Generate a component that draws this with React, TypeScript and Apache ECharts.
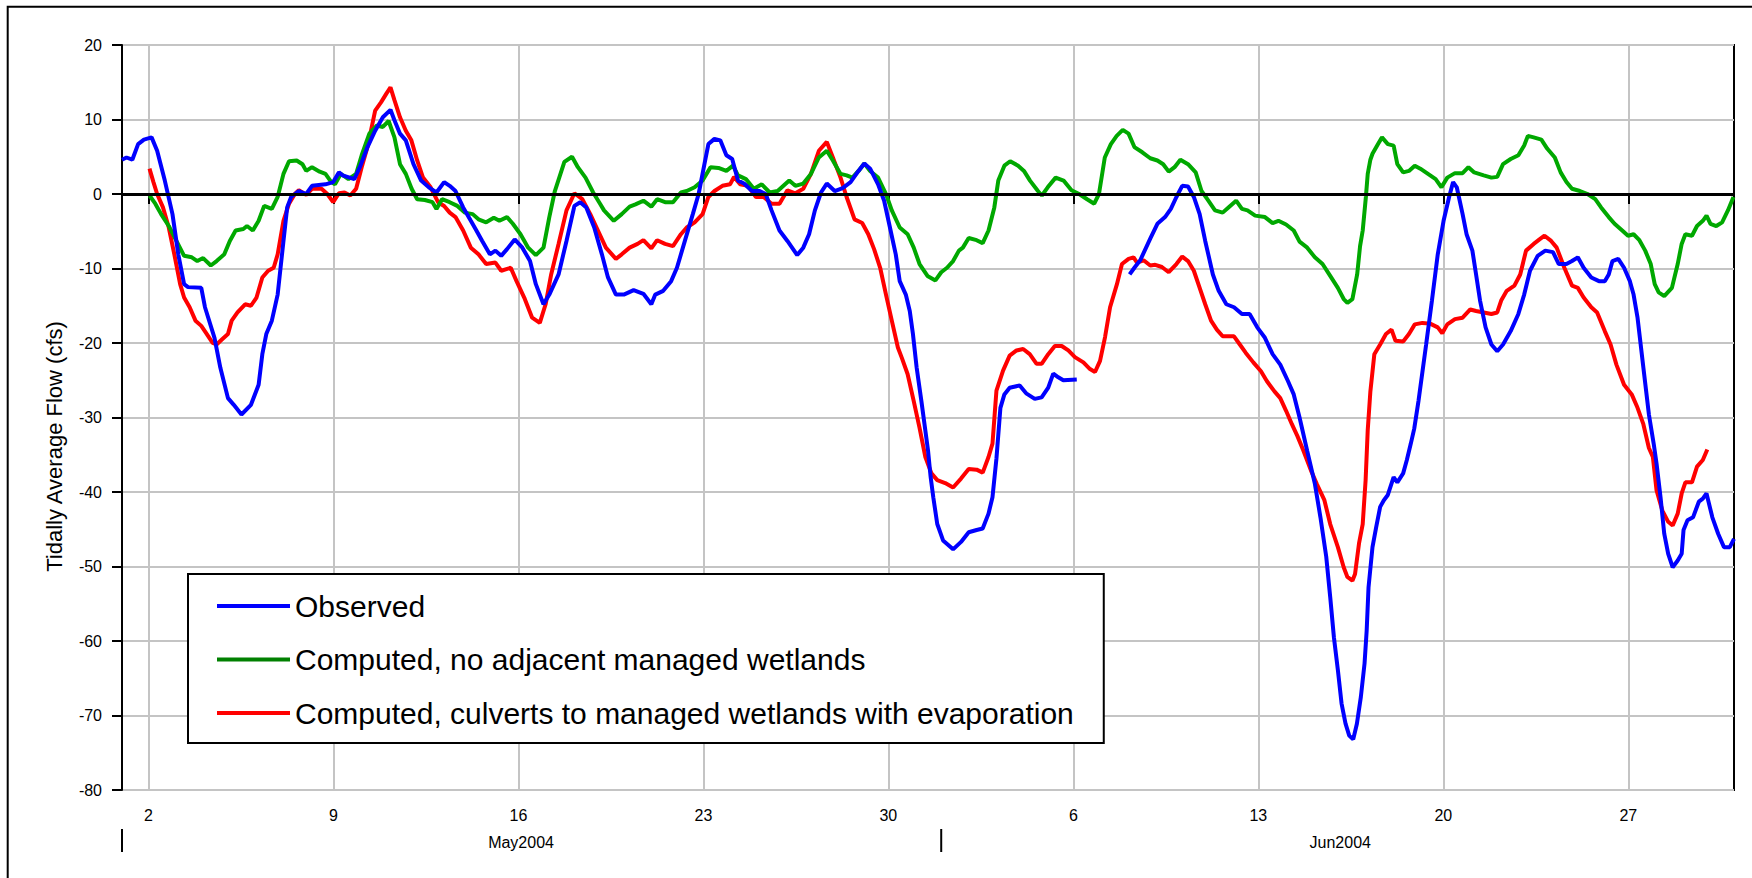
import React, { useEffect, useRef } from "react";
import * as echarts from "echarts";

const FONT = "'Liberation Sans', Arial, Helvetica, sans-serif";

// Day numbers: May d 00:00 -> d, June d 00:00 -> 31 + d.  Values in cfs.
const xStartDay = 1; // May 1 2004
const xEndDay = 62; // Jul 1 2004
const xTickDays = [2, 9, 16, 23, 30, 37, 44, 51, 58];
const yTicks = { min: -80, max: 20, step: 10 };
const monthLabels = [
  { day: 16.1, text: "May2004" },
  { day: 47.1, text: "Jun2004" },
];
const monthStarts = [1, 32];

const seriesNames = [
  "Observed",
  "Computed, no adjacent managed wetlands",
  "Computed, culverts to managed wetlands with evaporation",
];

const observedFlow: (number | null)[][] = [
  [1.0, 4.6], [1.17, 4.9], [1.39, 4.6], [1.61, 6.7], [1.83, 7.3], [2.12, 7.6], [2.33, 5.8], [2.62, 1.8],
  [2.91, -2.7], [3.13, -8.1], [3.35, -12.1], [3.5, -12.5], [4.0, -12.6], [4.14, -15.2], [4.5, -19.3],
  [4.72, -23.3], [5.01, -27.4], [5.23, -28.3], [5.52, -29.6], [5.88, -28.3], [6.17, -25.6], [6.31, -21.5],
  [6.46, -18.8], [6.67, -17.0], [6.89, -13.5], [7.11, -6.3], [7.25, -1.8], [7.4, -0.4], [7.69, 0.4],
  [7.97, 0], [8.19, 1.1], [8.7, 1.3], [8.99, 1.6], [9.21, 2.9], [9.35, 2.5], [9.79, 2.0], [10.0, 3.6],
  [10.29, 6.3], [10.58, 8.5], [10.87, 10.3], [11.16, 11.3], [11.31, 9.9], [11.52, 8.1], [11.74, 7.2],
  [12.03, 4.0], [12.32, 1.8], [12.61, 0.9], [12.9, 0.2], [13.19, 1.6], [13.4, 1.1], [13.62, 0.4],
  [13.91, -1.8], [14.2, -3.6], [14.41, -4.9], [14.63, -6.3], [14.92, -8.1], [15.13, -7.6], [15.35, -8.3],
  [15.57, -7.4], [15.86, -6.1], [16.15, -7.2], [16.44, -9.0], [16.66, -12.1], [16.95, -14.8], [17.17, -13.5],
  [17.52, -10.8], [17.82, -6.3], [18.12, -1.6], [18.34, -1.1], [18.57, -1.8], [18.87, -4.5], [19.16, -8.1],
  [19.39, -11.2], [19.69, -13.5], [19.99, -13.5], [20.36, -12.9], [20.73, -13.4], [21.03, -14.8],
  [21.18, -13.5], [21.48, -13.0], [21.78, -11.7], [22.0, -9.9], [22.3, -6.3], [22.6, -2.7], [22.82, 0],
  [23.04, 4.0], [23.19, 6.7], [23.42, 7.4], [23.64, 7.2], [23.87, 5.2], [24.09, 4.7], [24.31, 1.8],
  [24.54, 1.4], [24.84, 0.4], [25.13, 0.4], [25.36, 0], [25.58, -2.2], [25.88, -4.9], [26.18, -6.3],
  [26.55, -8.2], [26.78, -7.2], [27.0, -5.4], [27.22, -2.2], [27.45, 0.2], [27.67, 1.4], [27.97, 0.4],
  [28.27, 0.8], [28.57, 1.6], [28.87, 3.1], [29.09, 4.1], [29.31, 3.4], [29.61, 1.3], [29.84, -0.9],
  [30.06, -4.5], [30.28, -8.1], [30.43, -11.7], [30.66, -13.5], [30.81, -15.7], [30.93, -18.8],
  [31.07, -23.3], [31.25, -27.8], [31.5, -34.4], [31.6, -38.0], [31.7, -40.7], [31.85, -44.3],
  [32.07, -46.5], [32.45, -47.7], [32.75, -46.7], [33.04, -45.4], [33.34, -45.1], [33.57, -44.9],
  [33.79, -42.9], [33.94, -40.7], [34.09, -35.5], [34.24, -28.7], [34.39, -26.9], [34.59, -26.0],
  [34.97, -25.7], [35.23, -26.8], [35.54, -27.5], [35.8, -27.3], [36.05, -26.0], [36.24, -24.1],
  [36.43, -24.6], [36.62, -25.0], [37.13, -24.9],
  [38.1, null],
  [39.13, -10.8], [39.31, -9.9], [39.53, -8.9], [39.91, -6.0], [40.18, -4.0], [40.47, -3.1], [40.69, -2.0],
  [40.9, -0.4], [41.12, 1.1], [41.34, 1.0], [41.56, -0.4], [41.78, -2.7], [41.99, -6.3], [42.28, -10.8],
  [42.5, -13.0], [42.79, -14.8], [43.08, -15.2], [43.38, -16.1], [43.67, -16.1], [43.96, -17.9],
  [44.25, -19.3], [44.54, -21.5], [44.83, -22.9], [45.12, -25.1], [45.34, -26.9], [45.56, -30.0],
  [45.85, -34.5], [46.14, -38.9], [46.35, -43.4], [46.57, -48.7], [46.72, -54.1], [46.86, -59.5],
  [47.01, -63.9], [47.15, -68.4], [47.3, -71.1], [47.44, -72.7], [47.59, -73.2], [47.73, -71.1],
  [47.88, -67.5], [48.02, -63.0], [48.1, -58.6], [48.17, -52.8], [48.32, -47.4], [48.46, -44.7],
  [48.61, -42.0], [48.75, -41.1], [48.9, -40.4], [49.12, -38.0], [49.26, -38.7], [49.48, -37.5],
  [49.62, -35.7], [49.77, -33.5], [49.9, -31.5], [50.06, -27.8], [50.35, -20.2], [50.57, -14.3],
  [50.79, -8.1], [51.01, -3.6], [51.22, -0.4], [51.37, 1.6], [51.51, 0.9], [51.73, -2.7], [51.88, -5.4],
  [52.1, -7.6], [52.24, -10.8], [52.39, -14.3], [52.6, -17.9], [52.82, -20.2], [53.04, -21.1],
  [53.26, -20.2], [53.55, -18.4], [53.84, -16.1], [54.06, -13.5], [54.28, -10.3], [54.57, -8.3],
  [54.86, -7.6], [55.15, -7.8], [55.37, -9.4], [55.66, -9.4], [55.87, -9.0], [56.09, -8.5], [56.31, -9.9],
  [56.6, -11.2], [56.89, -11.7], [57.11, -11.7], [57.26, -10.8], [57.4, -9.0], [57.62, -8.7], [57.84, -9.9],
  [58.06, -11.7], [58.2, -13.5], [58.35, -16.6], [58.57, -23.3], [58.78, -29.6], [58.96, -33.5],
  [59.07, -36.2], [59.22, -40.7], [59.36, -45.6], [59.51, -48.3], [59.68, -50.1], [59.87, -49.2],
  [60.02, -48.3], [60.09, -45.1], [60.24, -43.8], [60.45, -43.4], [60.67, -41.3], [60.82, -40.9],
  [60.96, -40.2], [61.18, -43.4], [61.4, -45.6], [61.62, -47.4], [61.84, -47.4], [62.0, -46.3],
];

const noWetlandsFlow: number[][] = [
  [2.04, -0.2], [2.26, -1.3], [2.48, -2.7], [2.77, -4.3], [3.06, -6.3], [3.35, -8.3], [3.64, -8.5],
  [3.85, -9.0], [4.07, -8.6], [4.36, -9.6], [4.58, -9.0], [4.87, -8.1], [5.08, -6.3], [5.3, -4.9],
  [5.59, -4.7], [5.73, -4.3], [5.95, -4.9], [6.17, -3.6], [6.38, -1.6], [6.67, -2.0], [6.89, -0.4],
  [7.11, 2.7], [7.32, 4.4], [7.61, 4.5], [7.83, 4.0], [7.97, 3.1], [8.19, 3.6], [8.48, 3.0], [8.7, 2.7],
  [8.92, 1.6], [9.06, 1.3], [9.28, 2.7], [9.57, 2.0], [9.86, 2.7], [10.07, 5.2], [10.36, 8.1], [10.65, 9.2],
  [10.87, 9.0], [11.09, 9.8], [11.31, 7.6], [11.52, 4.0], [11.74, 2.7], [11.96, 0.7], [12.17, -0.7],
  [12.46, -0.8], [12.75, -1.1], [12.9, -2.0], [13.11, -0.7], [13.4, -1.1], [13.69, -1.6], [13.98, -2.5],
  [14.27, -2.7], [14.49, -3.4], [14.78, -3.8], [15.07, -3.2], [15.28, -3.6], [15.57, -3.1], [15.79, -4.0],
  [16.08, -5.4], [16.37, -7.2], [16.66, -8.2], [16.95, -7.2], [17.17, -3.1], [17.38, 0.4], [17.74, 4.3],
  [18.03, 5.0], [18.25, 3.6], [18.54, 2.2], [18.83, 0.2], [19.09, -1.3], [19.24, -2.2], [19.61, -3.6],
  [19.91, -2.7], [20.21, -1.7], [20.43, -1.4], [20.73, -0.9], [21.03, -1.7], [21.25, -0.7], [21.55, -1.1],
  [21.85, -1.1], [22.15, 0.2], [22.37, 0.4], [22.67, 0.9], [22.97, 1.8], [23.27, 3.6], [23.57, 3.5],
  [23.87, 3.1], [24.12, 3.8], [24.31, 2.5], [24.61, 2.0], [24.91, 0.7], [25.21, 1.3], [25.51, 0.2],
  [25.81, 0.4], [26.03, 1.1], [26.25, 1.8], [26.48, 1.1], [26.78, 1.4], [27.07, 2.7], [27.37, 4.9],
  [27.67, 5.8], [27.9, 4.5], [28.19, 2.7], [28.42, 2.5], [28.64, 2.2], [28.87, 3.1], [29.09, 4.1],
  [29.31, 3.1], [29.61, 2.2], [29.91, 0], [30.13, -2.2], [30.43, -4.5], [30.73, -5.4], [30.96, -7.2],
  [31.18, -9.4], [31.48, -11.0], [31.78, -11.6], [32.0, -10.5], [32.22, -9.9], [32.45, -9.0], [32.67, -7.6],
  [32.82, -7.2], [33.04, -5.9], [33.34, -6.2], [33.57, -6.6], [33.79, -4.9], [34.01, -1.8], [34.16, 1.8],
  [34.39, 3.8], [34.61, 4.4], [34.91, 3.8], [35.13, 3.1], [35.36, 1.8], [35.66, 0.4], [35.81, -0.2],
  [36.03, 0.9], [36.33, 2.2], [36.63, 1.8], [36.93, 0.5], [37.22, 0], [37.52, -0.7], [37.79, -1.3],
  [37.97, 0], [38.19, 4.9], [38.42, 6.7], [38.64, 7.8], [38.87, 8.6], [39.09, 8.1], [39.31, 6.3],
  [39.61, 5.6], [39.91, 4.8], [40.18, 4.5], [40.4, 4.0], [40.61, 3.0], [40.83, 3.6], [41.05, 4.6],
  [41.34, 4.0], [41.63, 2.9], [41.85, 0.4], [42.07, -0.7], [42.36, -2.2], [42.65, -2.5], [42.87, -1.8],
  [43.16, -0.9], [43.38, -2.0], [43.59, -2.2], [43.88, -2.9], [44.25, -3.1], [44.54, -3.9], [44.76, -3.6],
  [45.05, -4.1], [45.34, -4.9], [45.56, -6.4], [45.85, -7.2], [46.14, -8.5], [46.43, -9.4], [46.72, -11.0],
  [47.01, -12.6], [47.23, -14.1], [47.37, -14.6], [47.56, -14.1], [47.74, -10.8], [47.85, -7.0],
  [47.95, -4.9], [48.07, -0.4], [48.14, 2.7], [48.24, 4.6], [48.32, 5.4], [48.53, 6.7], [48.68, 7.6],
  [48.9, 6.7], [49.12, 6.5], [49.26, 4.0], [49.48, 2.9], [49.7, 3.1], [49.92, 3.8], [50.13, 3.4],
  [50.42, 2.7], [50.71, 2.0], [50.93, 0.9], [51.15, 2.2], [51.44, 2.8], [51.73, 2.8], [51.95, 3.6],
  [52.17, 2.9], [52.53, 2.5], [52.82, 2.2], [53.04, 2.3], [53.26, 4.0], [53.55, 4.7], [53.84, 5.2],
  [54.06, 6.5], [54.2, 7.8], [54.42, 7.6], [54.71, 7.3], [54.93, 6.1], [55.22, 4.9], [55.44, 2.9],
  [55.66, 1.6], [55.87, 0.7], [56.17, 0.4], [56.46, 0], [56.75, -0.7], [56.97, -1.8], [57.26, -3.1],
  [57.48, -4.0], [57.77, -4.9], [57.99, -5.6], [58.2, -5.4], [58.42, -6.2], [58.64, -7.6], [58.85, -9.4],
  [59.0, -12.1], [59.15, -13.2], [59.36, -13.7], [59.65, -12.6], [59.87, -9.4], [60.02, -6.7],
  [60.16, -5.4], [60.41, -5.6], [60.6, -4.3], [60.82, -3.6], [60.96, -2.9], [61.11, -4.0], [61.33, -4.3],
  [61.55, -3.8], [61.77, -2.2], [61.98, -0.4],
];

const culvertsFlow: number[][] = [
  [2.04, 3.4], [2.19, 1.6], [2.33, 0], [2.55, -1.8], [2.77, -4.5], [2.98, -8.1], [3.2, -12.1], [3.35, -13.9],
  [3.56, -15.2], [3.78, -17.0], [4.0, -17.7], [4.21, -18.8], [4.43, -20.0], [4.58, -20.2], [4.79, -19.5],
  [5.01, -18.8], [5.15, -17.0], [5.37, -15.9], [5.66, -14.8], [5.88, -15.0], [6.09, -13.9], [6.31, -11.2],
  [6.53, -10.3], [6.74, -9.9], [6.89, -8.1], [7.11, -3.6], [7.32, -1.3], [7.54, 0], [7.69, 0.5],
  [7.97, -0.1], [8.19, 0.7], [8.55, 0.7], [8.77, 0], [8.99, -1.1], [9.21, 0.1], [9.42, 0.2], [9.64, -0.2],
  [9.86, 0.7], [10.07, 3.6], [10.29, 6.3], [10.58, 11.2], [10.8, 12.3], [11.01, 13.5], [11.16, 14.3],
  [11.31, 12.6], [11.52, 10.3], [11.74, 8.5], [11.95, 7.2], [12.17, 4.5], [12.39, 2.2], [12.68, 0.9],
  [12.96, -1.1], [13.19, -1.6], [13.4, -2.5], [13.62, -3.1], [13.91, -4.9], [14.2, -7.2], [14.49, -8.1],
  [14.78, -9.4], [15.13, -9.2], [15.35, -10.3], [15.71, -9.9], [15.93, -11.7], [16.22, -13.9],
  [16.52, -16.6], [16.81, -17.3], [17.03, -14.8], [17.24, -10.8], [17.52, -6.7], [17.82, -2.2],
  [18.12, 0.1], [18.42, -0.7], [18.72, -2.7], [19.01, -4.9], [19.31, -7.2], [19.69, -8.7], [19.91, -8.1],
  [20.21, -7.2], [20.51, -6.7], [20.73, -6.2], [21.03, -7.3], [21.25, -6.2], [21.55, -6.7], [21.85, -7.0],
  [22.15, -5.4], [22.37, -4.5], [22.67, -3.8], [22.97, -2.7], [23.19, -0.4], [23.42, 0.4], [23.72, 1.1],
  [24.01, 1.3], [24.16, 2.3], [24.39, 1.3], [24.69, 1.1], [24.99, -0.4], [25.28, -0.4], [25.58, -1.3],
  [25.88, -1.3], [26.18, 0.5], [26.48, 0.1], [26.78, 0.7], [27.07, 2.7], [27.37, 5.8], [27.67, 7.0],
  [27.9, 4.9], [28.19, 2.2], [28.42, -0.4], [28.72, -3.4], [29.01, -3.9], [29.24, -5.4], [29.46, -7.4],
  [29.69, -9.9], [29.91, -13.5], [30.13, -17.0], [30.36, -20.6], [30.51, -22.0], [30.73, -24.2],
  [30.96, -27.8], [31.18, -31.4], [31.4, -35.3], [31.63, -37.5], [31.85, -38.4], [32.15, -38.8],
  [32.45, -39.4], [32.75, -38.2], [33.04, -36.9], [33.34, -37.0], [33.57, -37.4], [33.79, -35.3],
  [33.94, -33.5], [34.09, -26.4], [34.34, -23.7], [34.59, -21.7], [34.85, -21.0], [35.1, -20.8],
  [35.35, -21.5], [35.61, -22.8], [35.8, -22.8], [36.05, -21.5], [36.3, -20.4], [36.56, -20.4],
  [36.81, -21.0], [37.06, -21.9], [37.38, -22.6], [37.63, -23.5], [37.82, -23.9], [38.01, -22.4],
  [38.2, -19.2], [38.39, -15.2], [38.65, -12.1], [38.84, -9.4], [39.09, -8.7], [39.28, -8.5], [39.41, -9.2],
  [39.66, -8.9], [39.91, -9.6], [40.1, -9.5], [40.35, -9.8], [40.61, -10.5], [40.9, -9.4], [41.12, -8.4],
  [41.34, -9.0], [41.56, -10.3], [41.78, -12.6], [41.99, -14.8], [42.21, -17.0], [42.43, -18.2],
  [42.65, -19.1], [42.87, -19.1], [43.08, -19.1], [43.3, -20.2], [43.52, -21.3], [43.81, -22.6],
  [44.1, -23.8], [44.32, -25.1], [44.61, -26.5], [44.83, -27.4], [45.05, -29.1], [45.27, -30.9],
  [45.48, -32.5], [45.7, -34.4], [45.99, -37.1], [46.21, -38.9], [46.5, -41.1], [46.72, -44.3],
  [47.01, -47.4], [47.23, -50.1], [47.37, -51.4], [47.56, -51.9], [47.66, -51.0], [47.81, -46.9],
  [47.95, -44.3], [48.06, -38.4], [48.14, -31.7], [48.24, -26.5], [48.39, -21.5], [48.61, -20.2],
  [48.83, -18.8], [49.04, -18.2], [49.19, -19.7], [49.48, -19.8], [49.7, -18.8], [49.92, -17.5],
  [50.21, -17.3], [50.5, -17.4], [50.79, -17.9], [50.96, -18.7], [51.15, -17.5], [51.44, -16.8],
  [51.73, -16.6], [52.02, -15.5], [52.24, -15.7], [52.53, -15.9], [52.82, -16.1], [53.04, -15.9],
  [53.19, -14.3], [53.4, -13.0], [53.69, -12.3], [53.91, -10.8], [54.13, -7.6], [54.42, -6.7],
  [54.64, -6.1], [54.83, -5.6], [55.08, -6.3], [55.29, -7.2], [55.58, -9.9], [55.87, -12.3], [56.09, -12.6],
  [56.31, -13.9], [56.6, -15.2], [56.82, -15.9], [57.11, -18.4], [57.33, -20.2], [57.55, -22.9],
  [57.84, -25.6], [58.13, -26.9], [58.35, -28.7], [58.57, -30.9], [58.78, -34.1], [58.93, -35.3],
  [59.07, -39.8], [59.29, -42.5], [59.51, -44.0], [59.68, -44.5], [59.87, -42.9], [60.02, -40.2],
  [60.16, -38.7], [60.41, -38.7], [60.6, -36.6], [60.82, -35.7], [60.99, -34.3],
];

// The axis counts days from Apr 25 so that the weekly ticks (May 2, 9, ...) fall on multiples of 7.
const AXIS_SHIFT = 5;
const toAxis = (rows: (number | null)[][]) =>
  rows.map(([d, v]) => [(d as number) + AXIS_SHIFT, v === null ? null : v]);

const dayLabel = (v: number) => {
  const d = Math.round(v - AXIS_SHIFT);
  return String(d > 31 ? d - 31 : d);
};

export default function App() {
  const ref = useRef<HTMLDivElement>(null);

  useEffect(() => {
    if (!ref.current) return;
    const chart = echarts.init(ref.current, undefined, { renderer: "svg" });
    const tickValues = xTickDays.map((d) => d + AXIS_SHIFT);

    const option: any = {
      animation: false,
      backgroundColor: "#ffffff",
      textStyle: { fontFamily: FONT },
      grid: {
        left: 122,
        top: 45,
        right: 18,
        bottom: 88,
        show: true,
        borderColor: "#000",
        borderWidth: 2,
        backgroundColor: "transparent",
      },
      xAxis: {
        type: "value",
        min: xStartDay + AXIS_SHIFT,
        max: xEndDay + AXIS_SHIFT,
        minInterval: 7,
        maxInterval: 7,
        axisLine: { show: true, lineStyle: { color: "#000", width: 2 } },
        axisTick: {
          show: true,
          length: 10,
          inside: false,
          lineStyle: { color: "#000", width: 2 },
          customValues: tickValues,
        },
        axisLabel: {
          show: true,
          margin: 17,
          color: "#000",
          fontSize: 16,
          fontFamily: FONT,
          formatter: (v: number) => dayLabel(v),
          showMinLabel: true,
          showMaxLabel: true,
          customValues: tickValues,
        },
        splitLine: { show: true, lineStyle: { color: "#c4c4c4", width: 2 } },
      },
      yAxis: {
        type: "value",
        min: yTicks.min,
        max: yTicks.max,
        interval: yTicks.step,
        axisLine: { show: true, onZero: false, lineStyle: { color: "#000", width: 2 } },
        axisTick: { show: true, length: 10, inside: false, lineStyle: { color: "#000", width: 2 } },
        axisLabel: { margin: 20, color: "#000", fontSize: 16, fontFamily: FONT },
        splitLine: { show: true, lineStyle: { color: "#c4c4c4", width: 2 } },
      },
      legend: {
        show: true,
        orient: "vertical",
        left: 188,
        top: 574,
        icon: "rect",
        itemWidth: 73,
        itemHeight: 4,
        itemGap: 23.5,
        padding: [17, 30, 15, 29],
        backgroundColor: "#ffffff",
        borderColor: "#000",
        borderWidth: 2,
        selectedMode: false,
        textStyle: { fontSize: 30, lineHeight: 30, color: "#000", fontFamily: FONT },
        data: [
          { name: seriesNames[0], itemStyle: { color: "#0000ff" } },
          { name: seriesNames[1], itemStyle: { color: "#008000" } },
          { name: seriesNames[2], itemStyle: { color: "#ff0000" } },
        ],
      },
      series: [
        {
          type: "line",
          name: seriesNames[2],
          data: toAxis(culvertsFlow),
          symbol: "none",
          showSymbol: false,
          lineStyle: { color: "#ff0000", width: 4 },
          itemStyle: { color: "#ff0000" },
          z: 2,
        },
        {
          type: "line",
          name: seriesNames[1],
          data: toAxis(noWetlandsFlow),
          symbol: "none",
          showSymbol: false,
          lineStyle: { color: "#00a800", width: 4 },
          itemStyle: { color: "#00a800" },
          z: 3,
        },
        {
          type: "line",
          name: seriesNames[0],
          data: toAxis(observedFlow),
          symbol: "none",
          showSymbol: false,
          connectNulls: false,
          lineStyle: { color: "#0000ff", width: 4 },
          itemStyle: { color: "#0000ff" },
          z: 4,
          markLine: {
            silent: true,
            symbol: ["none", "none"],
            label: { show: false },
            lineStyle: { color: "#000", width: 3, type: "solid" },
            data: [{ yAxis: 0 }],
          },
        },
      ],
    };

    chart.setOption(option);

    const px = (day: number) => chart.convertToPixel({ xAxisIndex: 0 }, day + AXIS_SHIFT) as number;
    const bottom = chart.convertToPixel({ yAxisIndex: 0 }, yTicks.min) as number;
    const top = chart.convertToPixel({ yAxisIndex: 0 }, yTicks.max) as number;

    const graphics: any[] = [
      {
        type: "rect",
        silent: true,
        shape: { x: 7.7, y: 6.8, width: 4000, height: 4000 },
        style: { fill: "none", stroke: "#000", lineWidth: 2 },
        z: 10,
      },
      {
        type: "text",
        silent: true,
        x: 54,
        y: (top + bottom) / 2 + 29,
        rotation: Math.PI / 2,
        style: {
          text: "Tidally Average Flow (cfs)",
          fill: "#000",
          fontSize: 22,
          fontFamily: FONT,
          align: "center",
          verticalAlign: "middle",
        },
      },
    ];
    monthStarts.forEach((d) => {
      const x = px(d);
      graphics.push({
        type: "line",
        silent: true,
        shape: { x1: x, y1: bottom + 39, x2: x, y2: bottom + 62 },
        style: { stroke: "#000", lineWidth: 2 },
      });
    });
    monthLabels.forEach((m) => {
      graphics.push({
        type: "text",
        silent: true,
        x: px(m.day),
        y: bottom + 52,
        style: {
          text: m.text,
          fill: "#000",
          fontSize: 16,
          fontFamily: FONT,
          align: "center",
          verticalAlign: "middle",
        },
      });
    });
    chart.setOption({ graphic: graphics });

    return () => {
      chart.dispose();
    };
  }, []);

  return (
    <div
      ref={ref}
      style={{ position: "fixed", left: 0, top: 0, width: 1752, height: 878, background: "#fff" }}
    />
  );
}
